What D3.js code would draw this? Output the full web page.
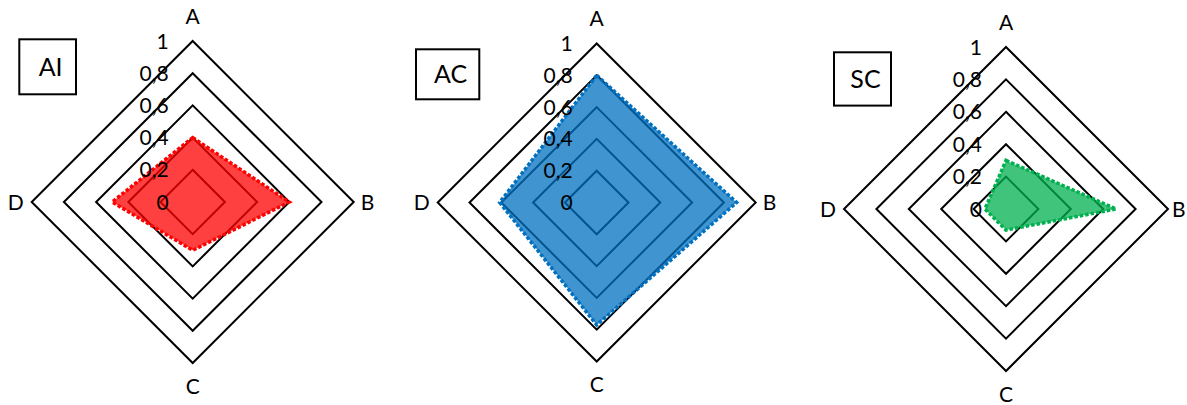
<!DOCTYPE html>
<html>
<head>
<meta charset="utf-8">
<script src="https://cdn.jsdelivr.net/npm/d3@7"></script>
<style>
  body { margin: 0; background: #fff; }
  svg text { font-family: Lato, "Open Sans", sans-serif; fill: #000; }
</style>
</head>
<body>
<div id="chart"></div>
<script>
// data
const axes = ["A", "B", "C", "D"];
const ticks = [0, 0.2, 0.4, 0.6, 0.8, 1];
const tickLabels = ["0", "0,2", "0,4", "0,6", "0,8", "1"];
const titles = ["AI", "AC", "SC"];
const valuesAI = [0.4, 0.6, 0.3, 0.5];
const valuesAC = [0.8, 0.88, 0.77, 0.61];
const valuesSC = [0.3, 0.68, 0.13, 0.13];
const seriesColors = ["#ff0000", "#0070c0", "#00b050"];

// panel layout (center, radius, title box, gap of the B label)
const panels = [
  { cx: 192.7, cy: 202, R: 161, box: [19.3, 39.3, 56.7, 55], bGap: 7, values: valuesAI },
  { cx: 596.7, cy: 202.5, R: 159, box: [416, 49.3, 63.3, 50], bGap: 7, values: valuesAC },
  { cx: 1006, cy: 209, R: 162, box: [834, 52.3, 57, 53.3], bGap: 4, values: valuesSC }
];

const W = 1187, H = 405;

const svg = d3.select("#chart")
  .append("svg")
  .attr("width", W)
  .attr("height", H);

const angle = d3.scaleOrdinal()
  .domain(axes)
  .range(axes.map((d, i) => i * Math.PI / 2));

panels.forEach((p, k) => {
  const r = d3.scaleLinear().domain([0, 1]).range([0, p.R]);
  const g = svg.append("g").attr("transform", `translate(${p.cx},${p.cy})`);

  const radial = d3.lineRadial()
    .angle(d => angle(d.axis))
    .radius(d => r(d.value))
    .curve(d3.curveLinearClosed);

  // grid rings
  g.selectAll(".ring")
    .data(ticks.filter(t => t > 0))
    .enter()
    .append("path")
    .attr("class", "ring")
    .attr("d", t => radial(axes.map(a => ({ axis: a, value: t }))))
    .attr("fill", "none")
    .attr("stroke", "#000")
    .attr("stroke-width", 2)
    .attr("stroke-linejoin", "miter");

  // series area
  const pts = axes.map((a, i) => ({ axis: a, value: p.values[i] }));
  g.append("path")
    .attr("d", radial(pts))
    .attr("fill", seriesColors[k])
    .attr("fill-opacity", 0.75)
    .attr("stroke", seriesColors[k])
    .attr("stroke-width", 3.5)
    .attr("stroke-dasharray", "3.5,2")
    .attr("stroke-linejoin", "miter");

  // tick labels along axis A
  g.selectAll(".tick")
    .data(ticks)
    .enter()
    .append("text")
    .attr("class", "tick")
    .attr("x", -24)
    .attr("y", t => -r(t))
    .attr("dy", "0.36em")
    .attr("text-anchor", "end")
    .style("font-size", "21px")
    .text((t, i) => tickLabels[i]);

  // axis labels
  const lab = g.selectAll(".axis-label")
    .data(axes)
    .enter()
    .append("text")
    .attr("class", "axis-label")
    .style("font-size", "21px")
    .attr("dy", "0.36em")
    .text(d => d);
  lab.attr("x", d => d === "B" ? p.R + p.bGap : d === "D" ? -p.R - 8 : 0)
    .attr("y", d => d === "A" ? -p.R - 25 : d === "C" ? p.R + 23 : 0)
    .attr("text-anchor", d => d === "B" ? "start" : d === "D" ? "end" : "middle");

  // title box
  const [bx, by, bw, bh] = p.box;
  svg.append("rect")
    .attr("x", bx)
    .attr("y", by)
    .attr("width", bw)
    .attr("height", bh)
    .attr("fill", "#fff")
    .attr("stroke", "#000")
    .attr("stroke-width", 2);
  svg.append("text")
    .attr("x", bx + bw / 2 + 3)
    .attr("y", by + bh / 2)
    .attr("dy", "0.36em")
    .attr("text-anchor", "middle")
    .style("font-size", "25px")
    .text(titles[k]);
});
</script>
</body>
</html>
